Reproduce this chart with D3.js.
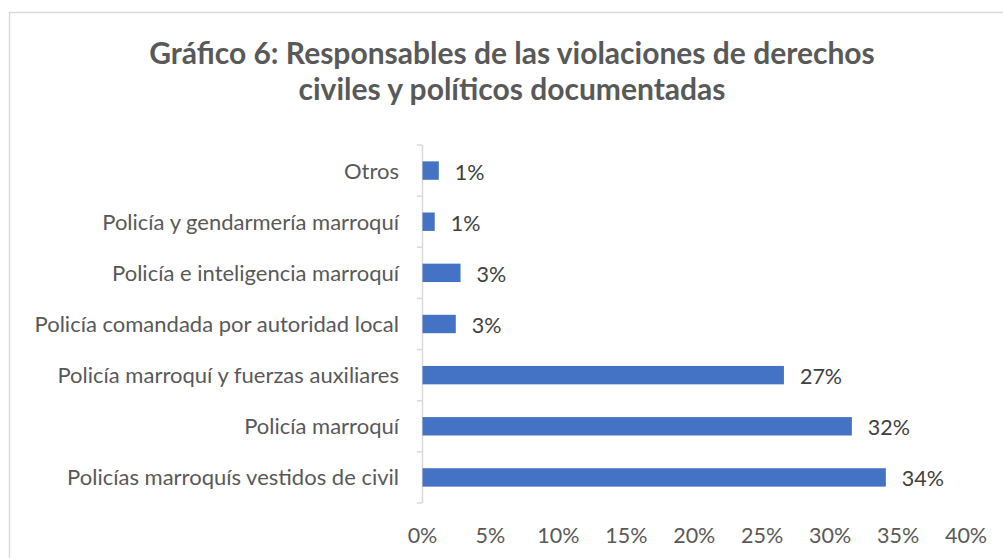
<!DOCTYPE html>
<html lang="es">
<head>
  <meta charset="UTF-8">
  <title>Gráfico 6</title>
  <script src="https://d3js.org/d3.v7.min.js"></script>
  <style>
    body { margin: 0; background: #fff; }
    svg { font-family: Lato, "Open Sans", sans-serif; }
  </style>
</head>
<body>
<div id="chart"></div>
<script>
const categories = [
  "Otros",
  "Policía y gendarmería marroquí",
  "Policía e inteligencia marroquí",
  "Policía comandada por autoridad local",
  "Policía marroquí y fuerzas auxiliares",
  "Policía marroquí",
  "Policías marroquís vestidos de civil"
];
const values = [1.2, 0.9, 2.8, 2.45, 26.6, 31.6, 34.1];
const valueLabels = ["1%", "1%", "3%", "3%", "27%", "32%", "34%"];
const xTicks = [0, 5, 10, 15, 20, 25, 30, 35, 40];
const titleLines = [
  "Gráfico 6: Responsables de las violaciones de derechos",
  "civiles y políticos documentadas"
];

const W = 1003, H = 558;
const svg = d3.select("#chart").append("svg")
  .attr("width", W).attr("height", H);

// chart frame (only the top/left edges are visible in the picture)
svg.append("path")
  .attr("d", `M9.5,${H} V12.5 H${W}`)
  .attr("fill", "none")
  .attr("stroke", "#d9d9d9")
  .attr("stroke-width", 1.5);

svg.append("g").selectAll("text")
  .data(titleLines)
  .enter().append("text")
  .attr("x", 512)
  .attr("y", (d, i) => 64 + i * 36)
  .attr("text-anchor", "middle")
  .attr("fill", "#595959")
  .attr("font-weight", "bold")
  .attr("font-size", 30)
  .text(d => d);

const x = d3.scaleLinear().domain([0, 40]).range([422.5, 966]);
const y = d3.scaleBand().domain(categories).range([145, 503]).paddingInner(0.64).paddingOuter(0.32);

const data = categories.map((c, i) => ({ cat: c, value: values[i], label: valueLabels[i] }));

// y axis line with ticks at category boundaries
const bounds = d3.range(categories.length + 1).map(i => 145 + i * y.step());
svg.append("line")
  .attr("x1", 422.5).attr("x2", 422.5)
  .attr("y1", 145).attr("y2", 503)
  .attr("stroke", "#d9d9d9").attr("stroke-width", 1.5);
svg.append("g").selectAll("line")
  .data(bounds)
  .enter().append("line")
  .attr("x1", 417).attr("x2", 422.5)
  .attr("y1", d => d).attr("y2", d => d)
  .attr("stroke", "#d9d9d9").attr("stroke-width", 1.5);

// category labels
svg.append("g").selectAll("text")
  .data(data)
  .enter().append("text")
  .attr("x", 399)
  .attr("y", d => y(d.cat) + y.bandwidth() / 2 + 8)
  .attr("text-anchor", "end")
  .attr("fill", "#595959")
  .attr("font-size", 22)
  .text(d => d.cat);

// bars
svg.append("g").selectAll("rect")
  .data(data)
  .enter().append("rect")
  .attr("x", x(0))
  .attr("y", d => y(d.cat))
  .attr("width", d => x(d.value) - x(0))
  .attr("height", y.bandwidth())
  .attr("fill", "#4472c4");

// value labels
svg.append("g").selectAll("text")
  .data(data)
  .enter().append("text")
  .attr("x", d => x(d.value) + 16)
  .attr("y", d => y(d.cat) + y.bandwidth() / 2 + 9)
  .attr("fill", "#404040")
  .attr("font-size", 21.5)
  .text(d => d.label);

// x tick labels
svg.append("g").selectAll("text")
  .data(xTicks)
  .enter().append("text")
  .attr("x", d => x(d))
  .attr("y", 543)
  .attr("text-anchor", "middle")
  .attr("fill", "#595959")
  .attr("font-size", 21.5)
  .text(d => d + "%");
</script>
</body>
</html>
